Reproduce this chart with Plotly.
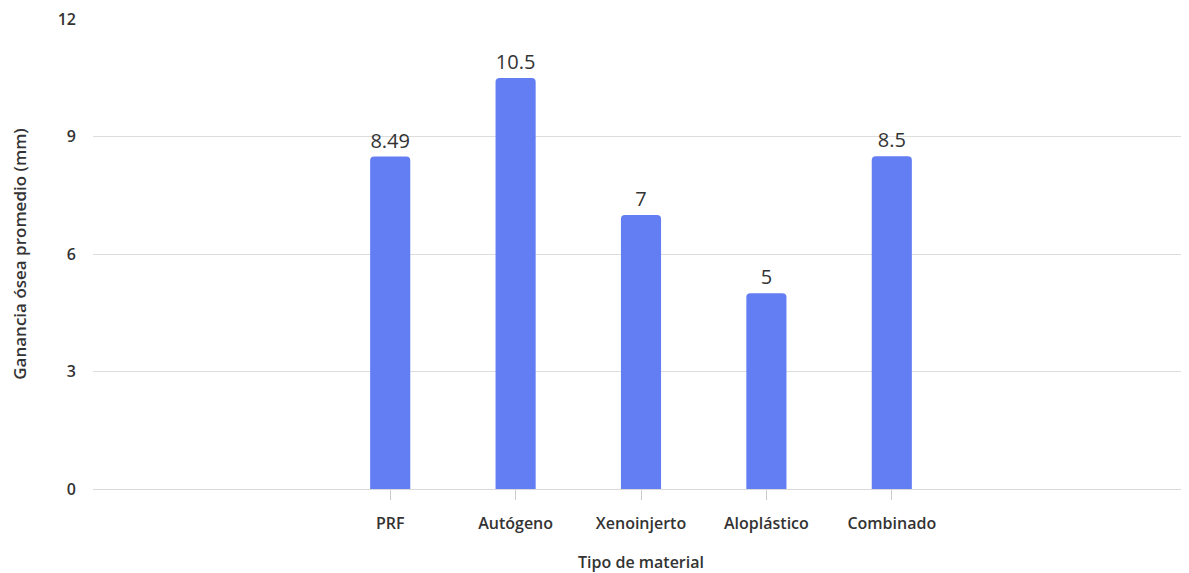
import plotly.graph_objects as go

categories = ["PRF", "Autógeno", "Xenoinjerto", "Aloplástico", "Combinado"]
values = [8.49, 10.5, 7, 5, 8.5]
value_labels = ["8.49", "10.5", "7", "5", "8.5"]
y_ticks = [0, 3, 6, 9, 12]

FONT = "Open Sans"
TXT = "#333333"
fig = go.Figure(go.Bar(
    x=list(range(len(categories))),
    y=values,
    text=value_labels,
    textposition="outside",
    textfont=dict(size=20, color=TXT, family=FONT, weight=500),
    marker=dict(color="#637EF3", line=dict(width=0)),
    width=0.32,
    cliponaxis=False,
))

fig.update_layout(
    width=1181, height=565,
    margin=dict(l=85, r=0, t=7, b=84),
    plot_bgcolor="white", paper_bgcolor="white",
    barcornerradius=4,
    font=dict(family=FONT, color=TXT, size=15),
    showlegend=False,
    xaxis=dict(
        tickmode="array", tickvals=list(range(len(categories))), ticktext=categories,
        range=[-2.37, 6.37], showgrid=False, showline=True, linecolor="#d9d9d9", linewidth=1,
        ticks="outside", ticklen=10, tickcolor="#cccccc", tickwidth=1,
        ticklabelstandoff=10,
        tickfont=dict(size=16, color=TXT, weight=600),
        title=dict(text="Tipo de material", font=dict(size=16, color=TXT, weight=600), standoff=24),
        zeroline=False,
    ),
    yaxis=dict(
        range=[0, 12.005], tickvals=y_ticks, showgrid=True, gridcolor="#dddddd", gridwidth=1,
        zeroline=False, showline=False, ticks="",
        ticklabelstandoff=16, ticklabeloverflow="allow",
        tickfont=dict(size=16, color=TXT, weight=600),
        title=dict(text="Ganancia ósea promedio (mm)", font=dict(size=17, color=TXT, weight=600), standoff=28),
    ),
)

fig.write_html("out.html")
